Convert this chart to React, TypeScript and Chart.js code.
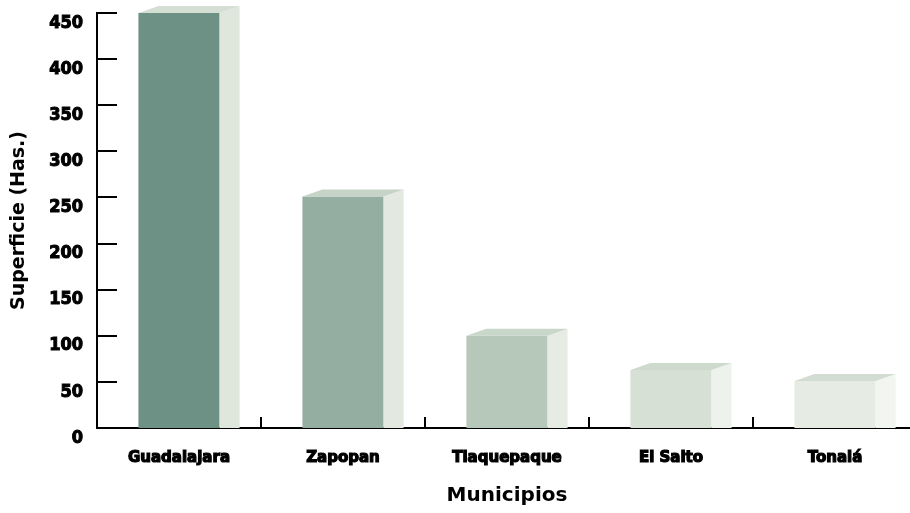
import React, { useEffect, useRef } from "react";
import { Chart, registerables } from "chart.js";

Chart.register(...registerables);

const categories = ["Guadalajara", "Zapopan", "Tlaquepaque", "El Salto", "Tonalá"];
const superficie = [450, 251, 100, 63, 51];
const yTickValues = [0, 50, 100, 150, 200, 250, 300, 350, 400, 450];

const frontColors = ["#6e9186", "#94aea1", "#b6c8b9", "#d6e0d4", "#e6ebe3"];
const sideColors = ["#dfe6dc", "#e3e9e0", "#e6ece4", "#eef2ec", "#f2f5f0"];
const topColors = ["#d5ded3", "#c6d4c7", "#c9d6ca", "#cfdacf", "#d3dcd2"];

const DX = 20;
const DY = 7;

const threeD = {
  id: "threeD",
  afterDatasetsDraw(chart: any) {
    const ctx = chart.ctx;
    const meta = chart.getDatasetMeta(0);
    meta.data.forEach((bar: any, i: number) => {
      const { x, y, base, width } = bar.getProps(["x", "y", "base", "width"], true);
      const l = x - width / 2;
      const r = x + width / 2;
      ctx.save();
      ctx.fillStyle = sideColors[i];
      ctx.beginPath();
      ctx.moveTo(r, y);
      ctx.lineTo(r + DX, y - DY);
      ctx.lineTo(r + DX, base);
      ctx.lineTo(r, base);
      ctx.closePath();
      ctx.fill();
      ctx.fillStyle = topColors[i];
      ctx.beginPath();
      ctx.moveTo(l, y);
      ctx.lineTo(l + DX, y - DY);
      ctx.lineTo(r + DX, y - DY);
      ctx.lineTo(r, y);
      ctx.closePath();
      ctx.fill();
      ctx.restore();
    });
  },
  afterDraw(chart: any) {
    const ctx = chart.ctx;
    const xs = chart.scales.x;
    const ys = chart.scales.y;
    const area = chart.chartArea;
    ctx.save();
    ctx.strokeStyle = "#000";
    ctx.lineWidth = 2;
    ys.ticks.forEach((t: any) => {
      const py = Math.round(ys.getPixelForValue(t.value));
      ctx.beginPath();
      ctx.moveTo(area.left, py);
      ctx.lineTo(area.left + 20, py);
      ctx.stroke();
    });
    for (let i = 1; i < categories.length; i++) {
      const px = Math.round((xs.getPixelForValue(i - 1) + xs.getPixelForValue(i)) / 2);
      ctx.beginPath();
      ctx.moveTo(px, area.bottom);
      ctx.lineTo(px, area.bottom - 11);
      ctx.stroke();
    }
    ctx.restore();
  },
};

export default function App() {
  const ref = useRef<HTMLCanvasElement | null>(null);
  useEffect(() => {
    if (!ref.current) return;
    const chart = new Chart(ref.current, {
      type: "bar",
      data: {
        labels: categories,
        datasets: [
          {
            data: superficie,
            backgroundColor: frontColors,
            borderWidth: 0,
            barPercentage: 0.495,
            categoryPercentage: 1,
            clip: false as any,
          },
        ],
      },
      options: {
        animation: false,
        responsive: false,
        devicePixelRatio: 1,
        layout: { padding: { top: 13, right: 8, left: 0, bottom: 0 } },
        plugins: { legend: { display: false }, tooltip: { enabled: false } },
        scales: {
          x: {
            grid: { display: false, drawTicks: false },
            border: { display: true, color: "#000", width: 2 },
            ticks: {
              color: "#000",
              textStrokeColor: "#000",
              textStrokeWidth: 1.2,
              padding: 21,
              maxRotation: 0,
              font: { family: "'DejaVu Sans', sans-serif", weight: "bold", size: 15 },
            },
            title: {
              display: true,
              text: "Municipios",
              color: "#000",
              padding: { top: 0, bottom: 5 },
              font: { family: "'DejaVu Sans', sans-serif", weight: "bold", size: 20 },
            },
            afterFit: (s: any) => {
              s.height = 85;
              s.paddingLeft = 0;
              s.paddingRight = 0;
            },
          },
          y: {
            min: 0,
            max: 450,
            afterBuildTicks: (s: any) => {
              s.ticks = yTickValues.map((v) => ({ value: v }));
            },
            grid: { display: false, drawTicks: false },
            border: { display: true, color: "#000", width: 2 },
            ticks: {
              color: "#000",
              textStrokeColor: "#000",
              textStrokeWidth: 1,
              padding: 14,
              labelOffset: 10,
              font: {
                family: "'DejaVu Sans Condensed', 'Liberation Sans Narrow', sans-serif",
                weight: "bold",
                size: 18,
              },
            },
            title: {
              display: true,
              text: "Superficie (Has.)",
              color: "#000",
              padding: { top: 8, bottom: 0 },
              font: { family: "'DejaVu Sans', sans-serif", weight: "bold", size: 19 },
            },
            afterFit: (s: any) => {
              s.width = 97;
              s.paddingTop = 0;
              s.paddingBottom = 0;
            },
          },
        },
      },
      plugins: [threeD],
    });
    return () => chart.destroy();
  }, []);
  return (
    <div
      style={{
        position: "fixed",
        left: 0,
        top: 0,
        width: 910,
        height: 513,
        overflow: "hidden",
        background: "#fff",
      }}
    >
      <canvas ref={ref} width={925} height={513} style={{ display: "block" }} />
    </div>
  );
}
